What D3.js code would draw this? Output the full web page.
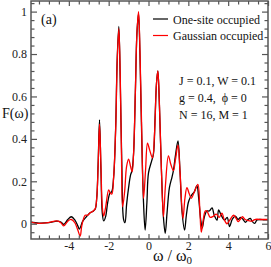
<!DOCTYPE html>
<html><head><meta charset="utf-8">
<script src="https://cdn.jsdelivr.net/npm/d3@7"></script>
<style>body{margin:0;background:#fff}svg{display:block}text{font-family:"Liberation Serif","DejaVu Serif",serif}</style>
</head><body><svg id="c" width="271" height="267"></svg>
<script>
const blackOmega = [-5.9,-5.5,-5.0,-4.6,-4.4,-4.25,-4.05,-3.88,-3.7,-3.55,-3.47,-3.3,-3.1,-2.93,-2.8,-2.68,-2.6,-2.53,-2.46,-2.39,-2.32,-2.25,-2.15,-2.05,-1.93,-1.85,-1.75,-1.65,-1.57,-1.49,-1.42,-1.34,-1.25,-1.18,-1.1,-1.0,-0.9,-0.83,-0.75,-0.66,-0.58,-0.5,-0.43,-0.35,-0.25,-0.17,-0.08,0.0,0.17,0.25,0.33,0.4,0.47,0.55,0.65,0.75,0.84,0.93,1.05,1.18,1.25,1.35,1.48,1.58,1.68,1.81,1.9,2.0,2.1,2.2,2.3,2.43,2.52,2.62,2.7,2.8,2.93,3.05,3.19,3.3,3.44,3.52,3.65,3.82,3.95,4.07,4.2,4.36,4.5,4.62,4.75,4.86,5.0,5.11,5.2,5.33,5.45,5.6,5.8,6.0];
const blackF = [0.007,0.003,0.005,0.012,0.008,-0.003,0.02,0.033,0.018,-0.01,-0.025,0.012,0.035,0.052,0.058,0.068,0.12,0.28,0.49,0.26,0.05,0.013,0.035,0.1,0.145,0.15,0.22,0.45,0.78,0.93,0.68,0.28,0.02,0.005,0.09,0.17,0.23,0.25,0.33,0.62,0.9,0.99,0.8,0.45,0.1,-0.03,0.1,0.24,0.30,0.33,0.5,0.66,0.72,0.55,0.25,0.03,-0.045,0.05,0.17,0.22,0.25,0.32,0.39,0.25,0.06,-0.03,0.04,0.1,0.125,0.14,0.15,0.18,0.12,0.02,-0.02,0.03,0.06,0.06,0.075,0.04,0.017,0.065,0.04,0.017,0.03,-0.014,0.02,0.036,0.02,0.03,0.02,0.007,0.02,0.025,0.012,0.002,0.018,0.02,0.018,0.018];
const redOmega = [-5.9,-5.5,-5.0,-4.6,-4.4,-4.25,-4.05,-3.88,-3.7,-3.55,-3.43,-3.35,-3.18,-3.05,-2.93,-2.8,-2.68,-2.6,-2.53,-2.46,-2.39,-2.32,-2.25,-2.15,-2.0,-1.92,-1.84,-1.75,-1.65,-1.57,-1.49,-1.42,-1.36,-1.3,-1.2,-1.1,-1.0,-0.9,-0.82,-0.75,-0.66,-0.58,-0.5,-0.43,-0.35,-0.25,-0.15,-0.05,0.05,0.2,0.3,0.4,0.47,0.55,0.65,0.75,0.85,1.0,1.12,1.25,1.35,1.48,1.58,1.73,1.83,1.93,2.05,2.15,2.3,2.48,2.57,2.65,2.75,2.85,2.93,3.1,3.25,3.4,3.55,3.69,3.8,3.94,4.1,4.27,4.4,4.5,4.6,4.72,4.85,5.0,5.2,5.3,5.45,5.6,5.8,6.0];
const redF = [0.008,0.002,0.006,0.013,0.005,-0.01,0.012,0.02,0.005,-0.03,-0.058,-0.01,0.04,0.04,0.052,0.058,0.07,0.12,0.27,0.47,0.28,0.08,0.036,0.08,0.16,0.145,0.14,0.22,0.44,0.77,0.92,0.7,0.35,0.08,0.15,0.27,0.305,0.27,0.245,0.33,0.62,0.9,1.0,0.82,0.48,0.12,0.25,0.38,0.35,0.31,0.42,0.66,0.72,0.56,0.25,0.033,0.18,0.32,0.28,0.25,0.3,0.37,0.25,0.025,0.12,0.17,0.14,0.12,0.15,0.185,0.08,-0.04,0.02,0.06,0.06,0.03,0.035,0.045,0.03,0.05,0.02,0.0,0.02,0.04,0.025,0.01,0.02,0.033,0.02,0.015,0.012,0.018,0.021,0.02,0.02,0.02];
const xTickValues = [-4,-2,0,2,4,6];
const yTickValues = [0,0.2,0.4,0.6,0.8,1];
const yTickLabels = ["0","0.2","0.4","0.6","0.8","1"];
const legendLabels = ["One-site occupied","Gaussian occupied"];
const seriesColors = ["#000000","#ff0000"];
const paramLines = ["J = 0.1, W = 0.1","g = 0.4,  \u03d5 = 0","N = 16, M = 1"];

const svg = d3.select("#c");
const L=31,R=268,T=1,B=239;
const x = d3.scaleLinear().domain([-5.9,6]).range([L,R]);
const y = d3.scaleLinear().domain([-0.072,1.05]).range([B,T]);

const g = svg.append("g");
const line = d3.line().x(d=>x(d[0])).y(d=>y(d[1])).curve(d3.curveCatmullRom.alpha(0.5));
svg.append("clipPath").attr("id","cp").append("rect").attr("x",L).attr("y",T).attr("width",R-L).attr("height",B-T);
const series = [d3.zip(blackOmega,blackF), d3.zip(redOmega,redF)];
series.forEach((s,i)=>{
  g.append("path").datum(s).attr("d",line).attr("fill","none").attr("stroke",seriesColors[i]).attr("stroke-width",1.3).attr("clip-path","url(#cp)");
});

const axCol="#555";
const xMinor = d3.range(-5.5,6.01,0.5).filter(v=>!xTickValues.includes(v));
const yMinor = d3.range(-0.04,1.05,0.04).map(v=>+v.toFixed(2)).filter(v=>!yTickValues.some(t=>Math.abs(t-v)<1e-6));
function addAxis(gen, tx, ty, vals, size, labels){
  const a = svg.append("g").attr("transform",`translate(${tx},${ty})`)
    .call(gen.tickValues(vals).tickSizeInner(size).tickSizeOuter(0).tickFormat(labels?((d,i)=>labels[i]):""));
  a.select(".domain").remove();
  a.selectAll("line").attr("stroke",axCol).attr("stroke-width",1.2);
  a.selectAll("text").attr("font-family","Liberation Serif").attr("font-size",12).attr("fill","#222");
  return a;
}
// bottom
addAxis(d3.axisBottom(x),0,B,xTickValues,-5,xTickValues.map(String)).selectAll("text").attr("dy","0.71em").attr("y",2);
addAxis(d3.axisBottom(x),0,B,xMinor,-3.5,null);
// top
addAxis(d3.axisTop(x),0,T,xTickValues,-5,null);
addAxis(d3.axisTop(x),0,T,xMinor,-3.5,null);
// left
addAxis(d3.axisLeft(y),L,0,yTickValues,-6,yTickLabels).selectAll("text").attr("x",-4);
addAxis(d3.axisLeft(y),L,0,yMinor,-3.5,null);
// right
addAxis(d3.axisRight(y),R,0,yTickValues,-6,null);
addAxis(d3.axisRight(y),R,0,yMinor,-3.5,null);

svg.append("rect").attr("x",L).attr("y",T).attr("width",R-L).attr("height",B-T)
  .attr("fill","none").attr("stroke",axCol).attr("stroke-width",1.5);

// axis labels
svg.append("text").attr("x",2).attr("y",118).attr("font-size",14).attr("fill","#111").text("F(\u03c9)");
const xl = svg.append("text").attr("x",153).attr("y",261).attr("font-size",16).attr("fill","#111");
xl.append("tspan").text("\u03c9 / \u03c9");
xl.append("tspan").attr("font-size",11).attr("dy",3).text("0");

// panel label
svg.append("text").attr("x",41).attr("y",24).attr("font-size",14).attr("fill","#111").text("(a)");

// legend
legendLabels.forEach((t,i)=>{
  const yy = 19 + i*16.5;
  svg.append("line").attr("x1",153).attr("x2",168).attr("y1",yy).attr("y2",yy).attr("stroke",seriesColors[i]).attr("stroke-width",1.2);
  svg.append("text").attr("x",173).attr("y",yy+4.5).attr("font-size",12).attr("fill","#111").text(t);
});
paramLines.forEach((t,i)=>{
  svg.append("text").attr("x",179).attr("y",85+i*17).attr("font-size",12).attr("fill","#111").style("white-space","pre").text(t);
});
</script></body></html>
